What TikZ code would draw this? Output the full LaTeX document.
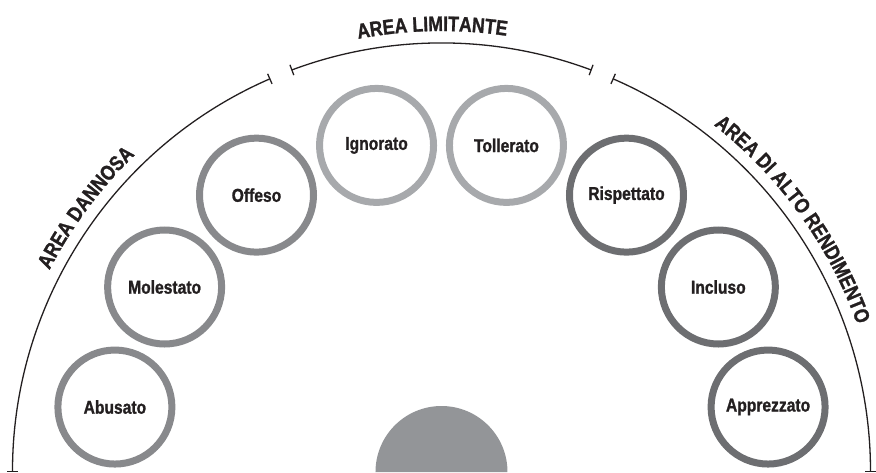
\documentclass[tikz,border=0pt]{standalone}
\usepackage{fontspec}
\setmainfont{Liberation Sans}[FakeStretch=0.84]
\newfontfamily\heavy{Liberation Sans Bold}[FakeStretch=0.84,FakeBold=1.2]
\usepackage{tikz}
\usetikzlibrary{arrows.meta,decorations.text}
\definecolor{ringdark}{HTML}{6D6E71}
\definecolor{ringmid}{HTML}{88898C}
\definecolor{ringlight}{HTML}{A7A9AC}
\definecolor{basegray}{HTML}{939598}
\definecolor{inkblack}{HTML}{231F20}
\newcommand\zonefont{\heavy\fontsize{21}{24}\selectfont}

\begin{document}
\begin{tikzpicture}[x=1pt,y=1pt,
  every node/.append style={font=\heavy\fontsize{18.6}{20}\selectfont,text=inkblack},
  ring/.style={circle,draw,line width=7pt,minimum size=114pt,inner sep=0pt},
  zonename/.style={decorate,decoration={text along path,text align=center,
    text color=inkblack,text={|\zonefont|#1}}}]
  \tikzstyle{harm} = [ring,draw=ringmid]
  \tikzstyle{limit} = [ring,draw=ringlight]
  \tikzstyle{high} = [ring,draw=ringdark]
  \tikzstyle{zone} = [line width=1.3pt,draw=inkblack,{Bar[width=11pt]}-{Bar[width=11pt]}]
  \useasboundingbox (-441.5,0) rectangle (434.5,472);
  \fill[basegray] (66,0) arc[start angle=0,end angle=180,radius=66] -- cycle;
  \draw[zone] (180:429) arc[start angle=180,end angle=113.5,radius=429];
  \draw[zone] (110.5:429) arc[start angle=110.5,end angle=69.5,radius=429];
  \draw[zone] (66.5:429) arc[start angle=66.5,end angle=0,radius=429];
  \path[zonename=AREA DANNOSA] (168:441) arc[start angle=168,end angle=118.8,radius=441];
  \path[zonename=AREA LIMITANTE] (116:441) arc[start angle=116,end angle=66.4,radius=441];
  \path[zonename=AREA DI ALTO RENDIMENTO] (62:441) arc[start angle=62,end angle=9.4,radius=441];
  \node[harm] (r_1) at (168.75:333) {Abusato};
  \node[harm] (r_2) at (146.25:333) {Molestato};
  \node[harm] (r_3) at (123.75:333) {Offeso};
  \node[limit] (r_4) at (101.25:333) {Ignorato};
  \node[limit] (r_5) at (78.75:333) {Tollerato};
  \node[high] (r_6) at (56.25:333) {Rispettato};
  \node[high] (r_7) at (33.75:333) {Incluso};
  \node[high] (r_8) at (11.25:333) {Apprezzato};
\end{tikzpicture}
\end{document}
